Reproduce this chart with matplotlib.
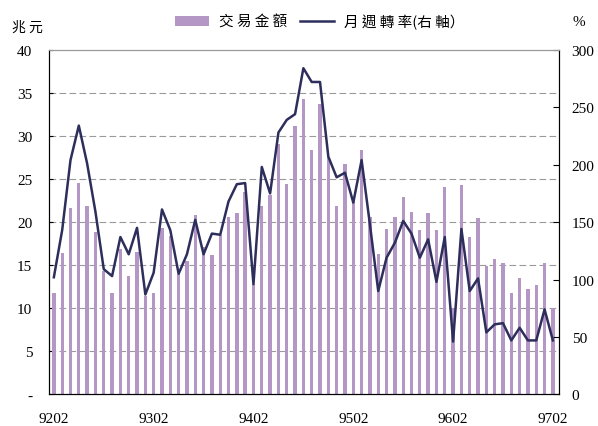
import numpy as np
import matplotlib.pyplot as plt
from matplotlib.patches import Patch
from matplotlib.lines import Line2D

# 交易金額 (兆元), monthly 9202 ~ 9702
amount = [11.8, 16.4, 21.6, 24.5, 21.9, 18.9, 14.3, 11.8, 16.9, 13.7,
          16.5, 11.4, 11.8, 19.3, 18.4, 14.0, 15.5, 20.8, 17.1, 16.2,
          18.5, 20.6, 21.1, 23.5, 12.8, 21.9, 23.1, 29.1, 24.4, 31.1,
          34.3, 28.4, 33.7, 27.5, 21.9, 26.8, 22.5, 28.4, 20.6, 16.3,
          19.2, 20.6, 22.9, 21.2, 19.1, 21.1, 19.1, 24.1, 10.0, 24.3,
          18.3, 20.5, 14.9, 15.7, 15.3, 11.8, 13.5, 12.2, 12.7, 15.3,
          10.0]

# 月週轉率 (%), right axis
turnover = [102, 143, 204, 234, 201, 159, 109, 103, 137, 122,
            145, 87, 106, 161, 143, 105, 122, 152, 122, 140,
            139, 168, 183, 184, 96, 198, 175, 228, 239, 244,
            284, 272, 272, 207, 189, 193, 167, 204, 148, 90,
            119, 132, 151, 140, 119, 135, 98, 137, 46, 144,
            90, 101, 54, 61, 62, 47, 58, 47, 47, 74,
            47]

xlabels = ['9202', '9302', '9402', '9502', '9602', '9702']
xlabel_pos = [0, 12, 24, 36, 48, 60]

bar_color = '#b597c6'
line_color = '#2d2e5c'
serif = 'Liberation Serif'
cjk = ['Noto Sans CJK TC', 'DejaVu Sans']

fig = plt.figure(figsize=(5.98, 4.27), dpi=100)
ax = fig.add_axes([0.082, 0.074, 0.853, 0.807])
ax2 = ax.twinx()

x = np.arange(len(amount))
ax.bar(x, amount, width=0.4, color=bar_color, zorder=2)
ax2.plot(x, turnover, color=line_color, linewidth=1.8, zorder=3)

ax.set_xlim(-0.58, 60.75)
ax.set_ylim(0, 40)
ax2.set_ylim(0, 300)

ax.set_yticks(range(0, 41, 5))
ax.set_yticklabels(['-'] + [str(v) for v in range(5, 41, 5)])
ax2.set_yticks(range(0, 301, 50))
ax.set_xticks(xlabel_pos)
ax.set_xticklabels(xlabels)

# dashed gridlines
for v in range(5, 40, 5):
    ax.axhline(v, color='#9a9a9a', linewidth=0.8, dashes=(6, 3), zorder=1)

ax.tick_params(axis='y', direction='in', length=3, pad=12, labelsize=11)
ax2.tick_params(axis='y', direction='in', length=4.5, pad=9, labelsize=11)
ax.tick_params(axis='x', length=0, pad=13, labelsize=11)
for lab in ax.get_xticklabels() + ax.get_yticklabels() + ax2.get_yticklabels():
    lab.set_fontfamily(serif)

for a in (ax, ax2):
    a.spines['top'].set_color('#999999')
    a.spines['left'].set_color('black')
    a.spines['right'].set_color('black')
    a.spines['bottom'].set_color('black')

ax.set_zorder(ax2.get_zorder() - 1)
ax2.patch.set_visible(False)

fig.text(0.02, 0.935, '兆 元', fontsize=10, family=cjk, va='center')
fig.text(0.958, 0.948, '%', fontsize=11, family=serif, va='center')

handles = [Patch(facecolor=bar_color, edgecolor='none'),
           Line2D([0], [0], color=line_color, linewidth=1.8)]
leg = fig.legend(handles, ['交 易 金 額', '月 週 轉 率(右 軸）'], loc='center',
                 bbox_to_anchor=(0.535, 0.948), ncol=2, frameon=False,
                 prop={'family': cjk, 'size': 10.5}, handlelength=2.3,
                 handletextpad=0.7, columnspacing=0.9)

fig.savefig('out.png', dpi=100)
